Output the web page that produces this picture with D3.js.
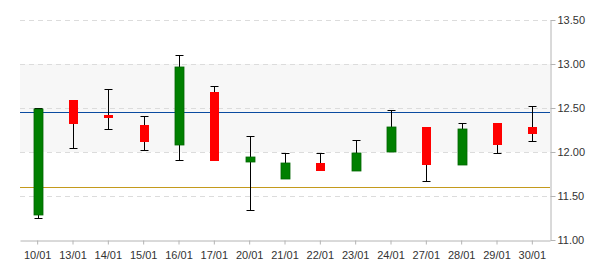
<!DOCTYPE html>
<html>
<head>
<meta charset="utf-8">
<script src="https://cdn.jsdelivr.net/npm/d3@7"></script>
<style>
  body { margin: 0; background: #fff; }
  #chart { width: 600px; height: 270px; }
  .axis text { font-family: "Liberation Sans", Arial, sans-serif; font-size: 11px; fill: #333; }
  .axis path, .axis line { stroke: #b4b4b4; }
</style>
</head>
<body>
<div id="chart"></div>
<script>
// OHLC data
const dates = ["10/01", "13/01", "14/01", "15/01", "16/01", "17/01", "20/01", "21/01",
               "22/01", "23/01", "24/01", "27/01", "28/01", "29/01", "30/01"];
const opens  = [11.30, 12.59, 12.42, 12.31, 12.09, 12.68, 11.90, 11.70, 11.88, 11.80, 12.01, 12.28, 11.86, 12.33, 12.28];
const closes = [12.49, 12.33, 12.40, 12.12, 12.97, 11.91, 11.94, 11.88, 11.80, 11.99, 12.28, 11.86, 12.26, 12.09, 12.22];
const highs  = [12.50, 12.59, 12.72, 12.41, 13.10, 12.75, 12.18, 11.99, 11.99, 12.14, 12.48, 12.28, 12.33, 12.33, 12.52];
const lows   = [11.25, 12.04, 12.26, 12.02, 11.91, 11.91, 11.34, 11.70, 11.80, 11.80, 12.01, 11.67, 11.86, 11.99, 12.12];
const yTicks = [11.0, 11.5, 12.0, 12.5, 13.0, 13.5];
const band = [12.0, 13.0];
const upperLine = 12.45;
const lowerLine = 11.60;

const data = dates.map((d, i) => ({ date: d, open: opens[i], close: closes[i], high: highs[i], low: lows[i] }));

const width = 600, height = 270;
const plotLeft = 20, plotRight = 550, plotTop = 20, plotBottom = 240;

const svg = d3.select("#chart")
    .append("svg")
    .attr("width", width)
    .attr("height", height);

const x = d3.scaleBand()
    .domain(dates)
    .range([plotLeft, plotRight])
    .padding(0);

const y = d3.scaleLinear()
    .domain([11, 13.5])
    .range([plotBottom, plotTop]);

const cx = d => Math.round(x(d) + x.bandwidth() / 2) + 0.5;
const py = v => Math.round(y(v)) + 0.5;

// shaded band
svg.append("rect")
    .attr("x", plotLeft)
    .attr("y", y(band[1]))
    .attr("width", plotRight - plotLeft)
    .attr("height", y(band[0]) - y(band[1]))
    .attr("fill", "#f7f7f7");

// dashed grid
svg.selectAll(".grid")
    .data(yTicks.filter(t => t > 11))
    .enter().append("line")
    .attr("class", "grid")
    .attr("x1", plotLeft)
    .attr("x2", plotRight)
    .attr("y1", d => py(d))
    .attr("y2", d => py(d))
    .attr("stroke", "#dcdcdc")
    .attr("stroke-dasharray", "5,4");

// reference lines
svg.append("line")
    .attr("x1", plotLeft).attr("x2", plotRight)
    .attr("y1", py(upperLine))
    .attr("y2", py(upperLine))
    .attr("stroke", "#0a4ba0")
    .attr("stroke-width", 1.2);

svg.append("line")
    .attr("x1", plotLeft).attr("x2", plotRight)
    .attr("y1", py(lowerLine))
    .attr("y2", py(lowerLine))
    .attr("stroke", "#c49a1c")
    .attr("stroke-width", 1);

// axes
svg.append("g")
    .attr("class", "axis")
    .attr("transform", `translate(0,${plotBottom + 0.5})`)
    .call(d3.axisBottom(x).tickSize(4).tickPadding(7).tickSizeOuter(0));

svg.append("g")
    .attr("class", "axis")
    .attr("transform", `translate(${plotRight + 0.5},0)`)
    .call(d3.axisRight(y).tickValues(yTicks).tickFormat(d3.format(".2f")).tickSize(5).tickPadding(2).tickSizeOuter(0));

// whiskers
const wick = svg.append("g").attr("stroke", "#000").attr("stroke-width", 1);
data.forEach(d => {
    const c = cx(d.date);
    wick.append("line").attr("x1", c).attr("x2", c).attr("y1", py(d.high)).attr("y2", py(d.low));
    wick.append("line").attr("x1", c - 4).attr("x2", c + 4).attr("y1", py(d.high)).attr("y2", py(d.high));
    wick.append("line").attr("x1", c - 4).attr("x2", c + 4).attr("y1", py(d.low)).attr("y2", py(d.low));
});

// candle bodies (cover the whisker row at each end)
svg.selectAll(".body")
    .data(data)
    .enter().append("rect")
    .attr("class", "body")
    .attr("x", d => cx(d.date) - 4.5)
    .attr("y", d => Math.round(y(Math.max(d.open, d.close))))
    .attr("width", 9)
    .attr("height", d => Math.max(2, Math.round(y(Math.min(d.open, d.close))) - Math.round(y(Math.max(d.open, d.close))) + 1))
    .attr("fill", d => d.close >= d.open ? "#008000" : "#ff0000")
    .attr("stroke", d => d.close >= d.open ? "#006400" : "none")
    .attr("stroke-width", 0.8);
</script>
</body>
</html>
